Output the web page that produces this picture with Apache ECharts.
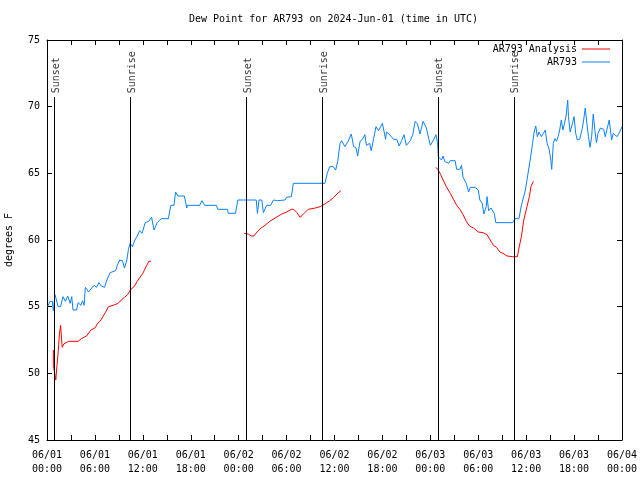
<!DOCTYPE html>
<html>
<head>
<meta charset="utf-8">
<script src="https://cdn.jsdelivr.net/npm/echarts@6/dist/echarts.min.js"></script>
<style>html,body{margin:0;padding:0;background:#fff}#c{width:640px;height:480px}</style>
</head>
<body>
<div id="c"></div>
<script>
// Observations (AR793): hours since 2024-06-01 00:00 UTC and dew point (F)
const obsHours = [0.08,0.37,0.67,0.8,1.0,1.2,1.4,1.7,2.0,2.3,2.6,2.9,3.1,3.25,3.7,3.9,4.25,4.45,4.65,4.8,5.2,5.6,5.9,6.2,6.5,6.8,7.2,7.5,7.9,8.6,8.8,9.1,9.45,9.7,10.0,10.2,10.4,10.7,11.0,11.3,11.6,11.9,12.3,12.75,13.1,13.4,13.8,14.3,15.2,15.5,15.9,16.1,16.4,17.2,17.5,17.6,19.1,19.4,19.75,21.2,21.4,22.6,22.7,23.6,23.9,24.75,
  26.2,26.35,26.55,26.9,27.1,27.5,28.0,28.35,28.85,29.8,30.0,30.6,30.85,34.8,35.1,35.4,35.85,36.15,36.4,36.7,36.9,37.3,37.7,38.1,38.4,38.7,38.9,39.2,39.5,39.8,40.0,40.4,40.6,40.9,41.2,41.5,41.7,42.0,42.4,42.5,42.9,43.4,43.8,44.1,44.4,44.7,45.0,45.5,45.8,46.1,46.4,46.7,47.1,47.5,47.8,48.0,48.4,48.7,48.9,
  49.0,49.2,49.4,49.6,49.8,50.0,50.3,50.5,51.1,51.3,51.7,51.9,52.1,52.5,52.8,53.0,53.6,54.0,54.2,54.5,54.7,55.0,55.1,55.3,55.6,55.8,56.0,56.2,58.3,58.6,59.1,59.4,59.9,60.3,60.6,60.8,61.0,61.2,61.4,61.6,61.9,62.4,62.6,62.9,63.1,63.2,63.4,63.6,63.8,64.0,64.2,64.4,64.6,64.8,65.0,65.2,65.3,65.5,65.8,66.0,66.2,66.4,66.7,67.0,67.2,67.4,67.6,67.8,68.0,68.2,68.4,68.6,68.8,69.0,69.3,69.7,69.9,70.1,70.4,70.6,70.7,70.9,71.1,71.4,71.7,72.0];
const obsDew = [55.0,55.4,55.4,54.7,55.9,55.75,55.0,55.0,55.75,55.4,55.8,55.25,55.75,54.75,54.75,55.3,55.1,55.45,55.1,56.45,56.1,56.4,56.6,56.45,56.8,56.55,56.45,57.0,57.55,57.7,58.1,58.5,58.45,57.9,58.5,59.3,59.75,59.5,60.0,60.3,60.7,60.5,61.3,61.4,61.7,60.75,61.3,61.6,61.6,62.6,62.6,63.6,63.3,63.3,62.4,62.6,62.6,62.95,62.6,62.6,62.3,62.3,62.0,62.0,63.0,63.0,
  63.0,62.0,63.0,63.0,62.05,62.6,62.6,63.0,62.95,63.0,63.2,63.25,64.25,64.25,65.0,65.5,65.5,65.25,65.9,67.25,67.45,67.0,67.4,67.95,67.0,66.9,66.3,67.4,67.55,67.9,67.1,67.25,66.7,67.6,68.5,68.2,68.4,68.75,67.55,68.1,67.9,67.55,67.55,67.05,67.45,67.9,67.1,67.45,67.9,68.9,68.7,67.95,68.9,68.4,67.6,67.1,67.5,67.9,67.3,
  66.25,66.25,66.0,66.3,65.9,66.0,65.75,65.95,65.95,65.3,65.3,65.6,64.7,64.25,63.6,63.95,63.95,63.75,63.0,62.75,61.95,62.5,63.25,62.2,62.4,62.25,62.0,61.3,61.3,61.6,61.6,62.6,63.75,65.25,66.4,67.25,68.1,68.55,67.75,68.1,67.75,68.25,67.3,66.75,65.9,65.3,67.25,67.6,67.4,67.75,68.25,69.0,68.25,68.75,69.3,70.5,69.25,68.1,68.75,69.25,68.0,67.5,67.55,68.3,69.0,69.9,68.75,67.75,66.95,67.75,69.45,68.25,67.3,68.0,68.4,68.3,67.75,68.25,69.0,68.0,67.5,68.0,67.9,67.75,68.1,68.5];
// Analysis (AR793 Analysis): null marks a gap between runs
const anaHours = [0.8,0.8,1.1,1.25,1.4,1.55,1.7,1.9,2.1,2.7,3.9,4.3,4.95,5.5,6.0,6.3,6.75,7.0,7.3,7.7,8.3,8.9,9.3,9.7,10.1,10.5,10.9,11.3,11.75,12.0,12.45,12.75,13.0,
  18.0,
  24.7,25.2,25.6,25.9,26.3,26.8,27.3,27.9,28.7,29.4,30.0,30.6,30.9,31.3,31.7,32.2,32.7,33.6,34.2,34.8,35.4,35.9,36.4,36.8,
  42.0,
  48.7,49.0,49.3,49.6,50.0,50.5,50.9,51.3,51.7,52.1,52.5,52.9,53.4,54.0,54.6,55.1,55.5,55.9,56.3,56.7,57.1,57.6,58.3,58.9,59.1,59.4,59.7,60.1,60.4,60.6,60.9];
const anaDew = [51.75,50.6,49.5,50.6,51.6,52.9,53.6,51.95,52.2,52.4,52.4,52.6,52.8,53.25,53.4,53.7,54.0,54.25,54.55,55.0,55.1,55.25,55.5,55.7,55.9,56.3,56.5,56.9,57.3,57.5,58.05,58.4,58.4,
  null,
  60.5,60.45,60.3,60.3,60.6,60.9,61.1,61.4,61.7,61.95,62.1,62.3,62.3,62.05,61.7,62.0,62.3,62.4,62.5,62.7,62.95,63.2,63.5,63.7,
  null,
  65.45,65.25,64.9,64.5,64.0,63.5,63.05,62.6,62.3,61.9,61.4,61.05,60.9,60.6,60.55,60.4,60.0,59.6,59.45,59.1,59.0,58.8,58.75,58.75,59.4,60.25,61.5,62.5,63.25,64.0,64.4];
const sunHours = [0.88, 10.4, 24.92, 34.44, 48.94, 58.46];
const sunLabels = ['Sunset','Sunrise','Sunset','Sunrise','Sunset','Sunrise'];
const tickLabels = ['06/01\n00:00','06/01\n06:00','06/01\n12:00','06/01\n18:00','06/02\n00:00','06/02\n06:00','06/02\n12:00','06/02\n18:00','06/03\n00:00','06/03\n06:00','06/03\n12:00','06/03\n18:00','06/04\n00:00'];
const yTicks = [45,50,55,60,65,70,75];

const FONT = 'DejaVu Sans Mono';
const chart = echarts.init(document.getElementById('c'), null, {renderer:'canvas'});
const obsData = obsHours.map((h,i)=>[h, obsDew[i]]);
const anaData = anaHours.map((h,i)=>[h, anaDew[i]===null ? '-' : anaDew[i]]);
const sunTop = 71.0, sunLineTop = 70.72;
const sunData = sunHours.map((h,i)=>({value:[h, sunTop], name:sunLabels[i]}));
const sunLines = sunHours.map(h=>[{coord:[h, yTicks[0]]},{coord:[h, sunLineTop]}]);

const axisCommon = {
  axisLine:{show:true, onZero:false, lineStyle:{color:'#000', width:1}},
  axisTick:{show:true, inside:true, length:5, lineStyle:{color:'#000', width:1}},
  splitLine:{show:false}
};
const legendCommon = {right:30, align:'right', padding:0, itemWidth:28, itemHeight:1, itemGap:5,
  icon:'rect', textStyle:{fontFamily:FONT, fontSize:10, color:'#000', lineHeight:12}};
chart.setOption({
  animation:false,
  textStyle:{fontFamily:FONT, fontSize:10, color:'#000'},
  title:{text:'Dew Point for AR793 on 2024-Jun-01 (time in UTC)', left:189, top:14, padding:0,
    textStyle:{fontFamily:FONT, fontSize:10, fontWeight:'normal', color:'#000'}},
  legend:[
    Object.assign({data:['AR793 Analysis'], top:43}, legendCommon),
    Object.assign({data:['AR793'], top:56}, legendCommon)
  ],
  grid:{left:47, right:18, top:40, bottom:40, containLabel:false, outerBoundsMode:'none'},
  xAxis:[
    Object.assign({type:'value', min:0, max:72, interval:3, position:'bottom',
      axisLabel:{show:true, margin:8, fontFamily:FONT, fontSize:10, color:'#000', lineHeight:14,
        showMinLabel:true, showMaxLabel:true,
        formatter:v=> (v%6===0 ? tickLabels[v/6] : '')}}, axisCommon),
    Object.assign({type:'value', min:0, max:72, interval:3, position:'top', axisLabel:{show:false}}, axisCommon)
  ],
  yAxis:[
    Object.assign({type:'value', min:yTicks[0], max:yTicks[yTicks.length-1], interval:5, position:'left',
      name:'degrees F', nameLocation:'middle', nameGap:33, nameRotate:90,
      nameTextStyle:{fontFamily:FONT, fontSize:10, color:'#000'},
      axisLabel:{show:true, margin:7, fontFamily:FONT, fontSize:10, color:'#000'}}, axisCommon),
    Object.assign({type:'value', min:yTicks[0], max:yTicks[yTicks.length-1], interval:5, position:'right', axisLabel:{show:false}}, axisCommon)
  ],
  series:[
    {name:'AR793 Analysis', type:'line', data:anaData, showSymbol:false, symbol:'none', connectNulls:false,
     lineStyle:{color:'#ff0000', width:1}, itemStyle:{color:'#ff0000'}, z:3},
    {name:'AR793', type:'line', data:obsData, showSymbol:false, symbol:'none',
     lineStyle:{color:'#0a80ff', width:1}, itemStyle:{color:'#0a80ff'}, z:2},
    {name:'sun', type:'scatter', data:sunData, symbolSize:0, silent:true, z:4,
     label:{show:true, position:'inside', rotate:90, align:'left', verticalAlign:'middle', offset:[0,2],
       formatter:p=>p.name, fontFamily:FONT, fontSize:10, color:'#000'},
     markLine:{silent:true, symbol:['none','none'], label:{show:false},
       lineStyle:{color:'#000', width:1, type:'solid'}, data:sunLines}}
  ]
});
</script>
</body>
</html>
